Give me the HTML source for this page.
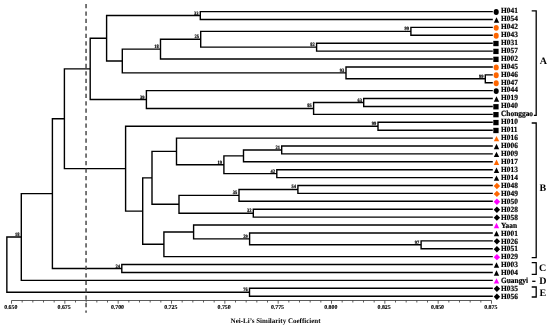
<!DOCTYPE html>
<html><head><meta charset="utf-8"><style>
html,body{margin:0;padding:0;background:#fff;}
body{width:550px;height:327px;overflow:hidden;}
svg{display:block;will-change:transform;}
text{font-family:"Liberation Serif",serif;font-weight:bold;fill:#000;text-rendering:geometricPrecision;}
.bs{font-size:5.1px;text-anchor:end;stroke:#000;stroke-width:0.2px;}
.lf{font-size:7.4px;stroke:#000;stroke-width:0.18px;}
.grp{font-size:10px;}
.tk{font-size:5.85px;text-anchor:middle;stroke:#000;stroke-width:0.12px;}
.ttl{font-size:7.0px;text-anchor:middle;}
</style></head><body>
<svg width="550" height="327" viewBox="0 0 550 327">
<path d="M200.30 11.60H492.80 M200.30 19.50H492.80 M200.30 10.90V20.20 M106.60 15.55H200.30 M410.90 27.41H492.80 M410.90 35.31H492.80 M410.90 26.71V36.02 M200.70 31.36H410.90 M316.60 43.22H492.80 M316.60 51.12H492.80 M316.60 42.52V51.83 M200.70 47.17H316.60 M200.70 30.66V47.87 M160.50 39.27H200.70 M160.50 59.03H492.80 M160.50 38.57V59.73 M122.30 49.15H160.50 M346.00 66.94H492.80 M485.30 74.84H492.80 M485.30 82.74H492.80 M485.30 74.14V83.44 M346.00 78.79H485.30 M346.00 66.23V79.49 M122.30 72.86H346.00 M122.30 48.45V73.56 M106.60 61.01H122.30 M106.60 14.85V61.71 M90.20 38.28H106.60 M146.40 90.65H492.80 M363.70 98.55H492.80 M363.70 106.46H492.80 M363.70 97.85V107.16 M313.60 102.51H363.70 M313.60 114.36H492.80 M313.60 101.81V115.06 M146.40 108.44H313.60 M146.40 89.95V109.14 M90.20 99.54H146.40 M90.20 37.58V100.24 M64.40 68.91H90.20 M378.00 122.27H492.80 M378.00 130.18H492.80 M378.00 121.57V130.88 M125.60 126.22H378.00 M176.50 138.08H492.80 M281.70 145.98H492.80 M281.70 153.89H492.80 M281.70 145.28V154.59 M243.50 149.94H281.70 M243.50 161.79H492.80 M243.50 149.24V162.49 M223.90 155.87H243.50 M276.80 169.70H492.80 M276.80 177.60H492.80 M276.80 169.00V178.30 M223.90 173.65H276.80 M223.90 155.17V174.35 M176.50 164.76H223.90 M176.50 137.38V165.46 M152.00 151.42H176.50 M297.90 185.51H492.80 M297.90 193.41H492.80 M297.90 184.81V194.11 M239.00 189.46H297.90 M239.00 201.32H492.80 M239.00 188.76V202.02 M179.00 195.39H239.00 M253.30 209.22H492.80 M253.30 217.13H492.80 M253.30 208.53V217.83 M179.00 213.18H253.30 M179.00 194.69V213.88 M152.00 204.28H179.00 M152.00 150.72V204.98 M142.70 177.85H152.00 M193.60 225.03H492.80 M249.60 232.94H492.80 M421.10 240.84H492.80 M421.10 248.75H492.80 M421.10 240.15V249.45 M249.60 244.80H421.10 M249.60 232.24V245.50 M193.60 238.87H249.60 M193.60 224.34V239.57 M163.90 231.95H193.60 M163.90 256.66H492.80 M163.90 231.25V257.36 M142.70 244.30H163.90 M142.70 177.15V245.00 M125.60 211.08H142.70 M125.60 125.52V211.78 M64.40 168.65H125.60 M64.40 68.21V169.35 M52.40 118.78H64.40 M121.80 264.56H492.80 M121.80 272.47H492.80 M121.80 263.86V273.17 M52.40 268.51H121.80 M52.40 118.08V269.21 M21.30 193.65H52.40 M21.30 280.37H492.80 M21.30 192.95V281.07 M6.85 237.01H21.30 M249.50 288.28H492.80 M249.50 296.18H492.80 M249.50 287.58V296.88 M6.85 292.23H249.50 M6.85 236.31V292.93" stroke="#000" stroke-width="1.4" fill="none"/>
<text transform="translate(198.50 14.55) scale(0.88 1)" class="bs">33</text>
<text transform="translate(409.10 30.36) scale(0.88 1)" class="bs">99</text>
<text transform="translate(314.80 46.17) scale(0.88 1)" class="bs">82</text>
<text transform="translate(198.90 38.27) scale(0.88 1)" class="bs">25</text>
<text transform="translate(158.70 48.15) scale(0.88 1)" class="bs">18</text>
<text transform="translate(483.50 77.79) scale(0.88 1)" class="bs">99</text>
<text transform="translate(344.20 71.86) scale(0.88 1)" class="bs">93</text>
<text transform="translate(361.90 101.51) scale(0.88 1)" class="bs">63</text>
<text transform="translate(311.80 107.44) scale(0.88 1)" class="bs">85</text>
<text transform="translate(144.60 98.54) scale(0.88 1)" class="bs">39</text>
<text transform="translate(376.20 125.22) scale(0.88 1)" class="bs">99</text>
<text transform="translate(279.90 148.94) scale(0.88 1)" class="bs">21</text>
<text transform="translate(275.00 172.65) scale(0.88 1)" class="bs">42</text>
<text transform="translate(222.10 163.76) scale(0.88 1)" class="bs">19</text>
<text transform="translate(296.10 188.46) scale(0.88 1)" class="bs">54</text>
<text transform="translate(237.20 194.39) scale(0.88 1)" class="bs">35</text>
<text transform="translate(251.50 212.18) scale(0.88 1)" class="bs">32</text>
<text transform="translate(419.30 243.80) scale(0.88 1)" class="bs">97</text>
<text transform="translate(247.80 237.87) scale(0.88 1)" class="bs">29</text>
<text transform="translate(120.00 267.51) scale(0.88 1)" class="bs">24</text>
<text transform="translate(19.50 236.01) scale(0.88 1)" class="bs">18</text>
<text transform="translate(247.70 291.23) scale(0.88 1)" class="bs">76</text>
<ellipse cx="496.20" cy="12.05" rx="2.55" ry="2.95" fill="#000"/>
<text transform="translate(501.0 12.95) scale(1 1.08)" class="lf">H041</text>
<path d="M496.50 17.30L499.20 22.70L493.80 22.70Z" fill="#000"/>
<text transform="translate(501.0 20.90) scale(1 1.08)" class="lf">H054</text>
<ellipse cx="496.20" cy="27.86" rx="2.55" ry="2.95" fill="#FF6600"/>
<text transform="translate(501.0 28.85) scale(1 1.08)" class="lf">H042</text>
<ellipse cx="496.20" cy="35.77" rx="2.55" ry="2.95" fill="#FF6600"/>
<text transform="translate(501.0 36.80) scale(1 1.08)" class="lf">H043</text>
<rect x="493.30" y="40.87" width="5.3" height="5.3" fill="#000"/>
<text transform="translate(501.0 44.75) scale(1 1.08)" class="lf">H031</text>
<rect x="493.30" y="48.77" width="5.3" height="5.3" fill="#000"/>
<text transform="translate(501.0 52.70) scale(1 1.08)" class="lf">H057</text>
<rect x="493.30" y="56.68" width="5.3" height="5.3" fill="#000"/>
<text transform="translate(501.0 60.65) scale(1 1.08)" class="lf">H002</text>
<ellipse cx="496.20" cy="67.39" rx="2.55" ry="2.95" fill="#FF6600"/>
<text transform="translate(501.0 68.60) scale(1 1.08)" class="lf">H045</text>
<ellipse cx="496.20" cy="75.29" rx="2.55" ry="2.95" fill="#FF6600"/>
<text transform="translate(501.0 76.55) scale(1 1.08)" class="lf">H046</text>
<ellipse cx="496.20" cy="83.19" rx="2.55" ry="2.95" fill="#FF6600"/>
<text transform="translate(501.0 84.50) scale(1 1.08)" class="lf">H047</text>
<ellipse cx="496.20" cy="91.10" rx="2.55" ry="2.95" fill="#000"/>
<text transform="translate(501.0 92.45) scale(1 1.08)" class="lf">H044</text>
<path d="M496.50 96.35L499.20 101.75L493.80 101.75Z" fill="#000"/>
<text transform="translate(501.0 100.40) scale(1 1.08)" class="lf">H019</text>
<rect x="493.30" y="104.11" width="5.3" height="5.3" fill="#000"/>
<text transform="translate(501.0 108.35) scale(1 1.08)" class="lf">H040</text>
<rect x="493.30" y="112.02" width="5.3" height="5.3" fill="#000"/>
<text transform="translate(501.0 116.30) scale(1 1.08)" class="lf">Chonggao</text>
<rect x="493.30" y="119.92" width="5.3" height="5.3" fill="#000"/>
<text transform="translate(501.0 124.25) scale(1 1.08)" class="lf">H010</text>
<rect x="493.30" y="127.83" width="5.3" height="5.3" fill="#000"/>
<text transform="translate(501.0 132.20) scale(1 1.08)" class="lf">H011</text>
<path d="M496.50 135.88L499.20 141.28L493.80 141.28Z" fill="#FF6600"/>
<text transform="translate(501.0 140.15) scale(1 1.08)" class="lf">H016</text>
<path d="M496.50 143.78L499.20 149.18L493.80 149.18Z" fill="#000"/>
<text transform="translate(501.0 148.10) scale(1 1.08)" class="lf">H006</text>
<path d="M496.50 151.69L499.20 157.09L493.80 157.09Z" fill="#000"/>
<text transform="translate(501.0 156.05) scale(1 1.08)" class="lf">H009</text>
<path d="M496.50 159.59L499.20 164.99L493.80 164.99Z" fill="#FF6600"/>
<text transform="translate(501.0 164.00) scale(1 1.08)" class="lf">H017</text>
<path d="M496.50 167.50L499.20 172.90L493.80 172.90Z" fill="#000"/>
<text transform="translate(501.0 171.95) scale(1 1.08)" class="lf">H013</text>
<path d="M496.50 175.41L499.20 180.80L493.80 180.80Z" fill="#000"/>
<text transform="translate(501.0 179.90) scale(1 1.08)" class="lf">H014</text>
<path d="M496.90 182.81L500.10 186.01L496.90 189.21L493.70 186.01Z" fill="#FF6600"/>
<text transform="translate(501.0 187.85) scale(1 1.08)" class="lf">H048</text>
<path d="M496.90 190.72L500.10 193.91L496.90 197.11L493.70 193.91Z" fill="#FF6600"/>
<text transform="translate(501.0 195.80) scale(1 1.08)" class="lf">H049</text>
<path d="M496.90 198.62L500.10 201.82L496.90 205.02L493.70 201.82Z" fill="#FF00FF"/>
<text transform="translate(501.0 203.75) scale(1 1.08)" class="lf">H050</text>
<path d="M496.90 206.53L500.10 209.72L496.90 212.92L493.70 209.72Z" fill="#000"/>
<text transform="translate(501.0 211.70) scale(1 1.08)" class="lf">H028</text>
<path d="M496.90 214.43L500.10 217.63L496.90 220.83L493.70 217.63Z" fill="#000"/>
<text transform="translate(501.0 219.65) scale(1 1.08)" class="lf">H058</text>
<path d="M496.50 222.84L499.20 228.23L493.80 228.23Z" fill="#FF00FF"/>
<text transform="translate(501.0 227.60) scale(1 1.08)" class="lf">Yaan</text>
<path d="M496.50 230.74L499.20 236.14L493.80 236.14Z" fill="#000"/>
<text transform="translate(501.0 235.55) scale(1 1.08)" class="lf">H001</text>
<path d="M496.90 238.15L500.10 241.34L496.90 244.54L493.70 241.34Z" fill="#000"/>
<text transform="translate(501.0 243.50) scale(1 1.08)" class="lf">H026</text>
<path d="M496.90 246.05L500.10 249.25L496.90 252.45L493.70 249.25Z" fill="#000"/>
<text transform="translate(501.0 251.45) scale(1 1.08)" class="lf">H051</text>
<path d="M496.90 253.96L500.10 257.16L496.90 260.36L493.70 257.16Z" fill="#FF00FF"/>
<text transform="translate(501.0 259.40) scale(1 1.08)" class="lf">H029</text>
<path d="M496.50 262.36L499.20 267.76L493.80 267.76Z" fill="#000"/>
<text transform="translate(501.0 267.35) scale(1 1.08)" class="lf">H003</text>
<path d="M496.50 270.27L499.20 275.67L493.80 275.67Z" fill="#000"/>
<text transform="translate(501.0 275.30) scale(1 1.08)" class="lf">H004</text>
<path d="M496.50 278.17L499.20 283.57L493.80 283.57Z" fill="#FF00FF"/>
<text transform="translate(501.0 283.25) scale(1 1.08)" class="lf">Guangyi</text>
<path d="M496.90 285.58L500.10 288.78L496.90 291.98L493.70 288.78Z" fill="#000"/>
<text transform="translate(501.0 291.20) scale(1 1.08)" class="lf">H035</text>
<path d="M496.90 293.48L500.10 296.68L496.90 299.88L493.70 296.68Z" fill="#000"/>
<text transform="translate(501.0 299.15) scale(1 1.08)" class="lf">H056</text>
<path d="M531.7 10.80H536.2V115.40H533.9" stroke="#000" stroke-width="1.3" fill="none"/>
<path d="M531.7 123.00H536.2V257.60H531.7" stroke="#000" stroke-width="1.3" fill="none"/>
<path d="M531.7 262.70H536.2V274.40H531.7" stroke="#000" stroke-width="1.3" fill="none"/>
<path d="M532.2 281.3H535.5" stroke="#000" stroke-width="1.3"/>
<path d="M531.7 287.00H536.2V297.00H531.7" stroke="#000" stroke-width="1.3" fill="none"/>
<text x="539.7" y="64.20" class="grp">A</text>
<text x="539.4" y="191.00" class="grp">B</text>
<text x="538.9" y="271.20" class="grp">C</text>
<text x="539.2" y="284.40" class="grp">D</text>
<text x="539.4" y="296.20" class="grp">E</text>
<path d="M86.05 3.9V312.7" stroke="#4a4a4a" stroke-width="1.5" stroke-dasharray="4.25 3.23"/>
<path d="M11.5 300.5H491.5" stroke="#333" stroke-width="0.8"/>
<path d="M11.50 300.5V303.7 M22.17 300.5V302.5 M32.83 300.5V302.5 M43.50 300.5V302.5 M54.17 300.5V302.5 M64.83 300.5V303.7 M75.50 300.5V302.5 M86.17 300.5V302.5 M96.83 300.5V302.5 M107.50 300.5V302.5 M118.17 300.5V303.7 M128.83 300.5V302.5 M139.50 300.5V302.5 M150.17 300.5V302.5 M160.83 300.5V302.5 M171.50 300.5V303.7 M182.17 300.5V302.5 M192.83 300.5V302.5 M203.50 300.5V302.5 M214.17 300.5V302.5 M224.83 300.5V303.7 M235.50 300.5V302.5 M246.17 300.5V302.5 M256.83 300.5V302.5 M267.50 300.5V302.5 M278.17 300.5V303.7 M288.83 300.5V302.5 M299.50 300.5V302.5 M310.17 300.5V302.5 M320.83 300.5V302.5 M331.50 300.5V303.7 M342.17 300.5V302.5 M352.83 300.5V302.5 M363.50 300.5V302.5 M374.17 300.5V302.5 M384.83 300.5V303.7 M395.50 300.5V302.5 M406.17 300.5V302.5 M416.83 300.5V302.5 M427.50 300.5V302.5 M438.17 300.5V303.7 M448.83 300.5V302.5 M459.50 300.5V302.5 M470.17 300.5V302.5 M480.83 300.5V302.5 M491.50 300.5V303.7" stroke="#333" stroke-width="0.8"/>
<text x="10.80" y="309.4" class="tk">0.650</text>
<text x="64.13" y="309.4" class="tk">0.675</text>
<text x="117.47" y="309.4" class="tk">0.700</text>
<text x="170.80" y="309.4" class="tk">0.725</text>
<text x="224.13" y="309.4" class="tk">0.750</text>
<text x="277.47" y="309.4" class="tk">0.775</text>
<text x="330.80" y="309.4" class="tk">0.800</text>
<text x="384.13" y="309.4" class="tk">0.825</text>
<text x="437.47" y="309.4" class="tk">0.850</text>
<text x="490.80" y="309.4" class="tk">0.875</text>
<text x="275.6" y="322.5" class="ttl">Nei-Li’s Similarity Coefficient</text>
</svg>
</body></html>
